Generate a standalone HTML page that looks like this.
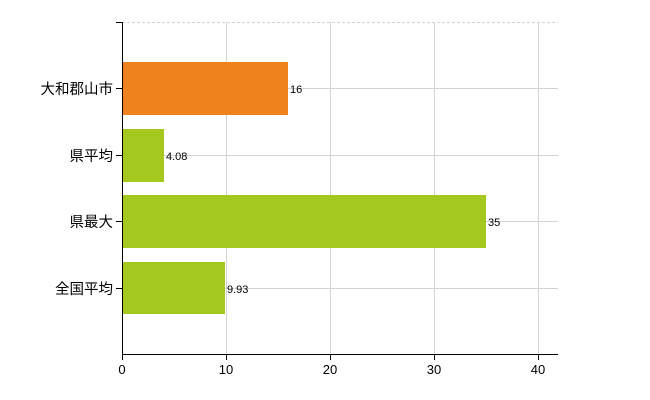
<!DOCTYPE html>
<html><head><meta charset="utf-8"><style>body{margin:0;background:#fff}svg{display:block}</style></head>
<body><svg width="650" height="400" xmlns="http://www.w3.org/2000/svg" font-family="Liberation Sans, Noto Sans CJK JP, sans-serif">
<g stroke="#d3d3d3" stroke-width="1">
<line x1="122" y1="22.5" x2="558" y2="22.5" stroke-dasharray="3,2"/>
<line x1="122" y1="88.5" x2="558" y2="88.5"/>
<line x1="122" y1="155.5" x2="558" y2="155.5"/>
<line x1="122" y1="221.5" x2="558" y2="221.5"/>
<line x1="122" y1="288.5" x2="558" y2="288.5"/>
<line x1="226.5" y1="22" x2="226.5" y2="354"/>
<line x1="330.5" y1="22" x2="330.5" y2="354"/>
<line x1="434.5" y1="22" x2="434.5" y2="354"/>
<line x1="538.5" y1="22" x2="538.5" y2="354"/>
</g>
<rect x="122" y="62" width="166" height="53" fill="#f0821e"/>
<rect x="122" y="129" width="42" height="53" fill="#a5c81e"/>
<rect x="122" y="195" width="364" height="53" fill="#a5c81e"/>
<rect x="122" y="262" width="103" height="52" fill="#a5c81e"/>
<g stroke="#000" stroke-width="1">
<line x1="122.5" y1="22" x2="122.5" y2="354"/>
<line x1="122" y1="354.5" x2="558" y2="354.5"/>
<line x1="116" y1="22.5" x2="122" y2="22.5"/>
<line x1="116" y1="88.5" x2="122" y2="88.5"/>
<line x1="116" y1="155.5" x2="122" y2="155.5"/>
<line x1="116" y1="221.5" x2="122" y2="221.5"/>
<line x1="116" y1="288.5" x2="122" y2="288.5"/>
<line x1="122.5" y1="354" x2="122.5" y2="360"/>
<line x1="226.5" y1="354" x2="226.5" y2="360"/>
<line x1="330.5" y1="354" x2="330.5" y2="360"/>
<line x1="434.5" y1="354" x2="434.5" y2="360"/>
<line x1="538.5" y1="354" x2="538.5" y2="360"/>
</g>
<g font-size="14.5" text-anchor="end" fill="#000">
<text x="113" y="94">大和郡山市</text>
<text x="113" y="161">県平均</text>
<text x="113" y="227">県最大</text>
<text x="113" y="294">全国平均</text>
</g>
<g font-size="13" text-anchor="middle">
<text x="122" y="374">0</text><text x="226" y="374">10</text><text x="330" y="374">20</text><text x="434" y="374">30</text><text x="538" y="374">40</text>
</g>
<g font-size="11">
<text x="290" y="93">16</text><text x="166" y="160">4.08</text><text x="488" y="226">35</text><text x="227" y="293">9.93</text>
</g>
</svg></body></html>
